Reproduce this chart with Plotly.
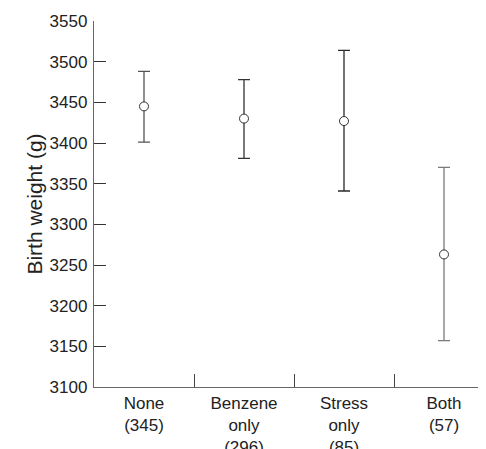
import plotly.graph_objects as go

categories = ["None<br>(345)", "Benzene<br>only<br>(296)", "Stress<br>only<br>(85)", "Both<br>(57)"]
means = [3445, 3430, 3427, 3263]
upper = [3488, 3478, 3514, 3370]
lower = [3401, 3381, 3341, 3157]
bar_colors = ["#555555", "#333333", "#2a2a2a", "#7a7a7a"]
y_ticks = [3100, 3150, 3200, 3250, 3300, 3350, 3400, 3450, 3500, 3550]

fig = go.Figure()
for i in range(len(categories)):
    fig.add_trace(go.Scatter(
        x=[i], y=[means[i]], mode="markers",
        marker=dict(symbol="circle", size=9, color="white",
                    line=dict(color="#333333", width=1)),
        error_y=dict(type="data", symmetric=False,
                     array=[upper[i] - means[i]],
                     arrayminus=[means[i] - lower[i]],
                     color=bar_colors[i], thickness=1.3, width=6),
        showlegend=False, hoverinfo="skip",
    ))

font = "Liberation Sans, Arial, sans-serif"
fig.update_layout(
    width=486, height=449,
    margin=dict(l=86, r=0, t=13, b=68),
    paper_bgcolor="white", plot_bgcolor="white",
    font=dict(family=font, size=17, color="#222222"),
    xaxis=dict(
        range=[-0.5, 3.5], tickmode="array",
        tickvals=list(range(len(categories))), ticktext=categories,
        ticks="", showgrid=False, zeroline=False,
        showline=True, linecolor="#666666", linewidth=1.3,
        tickfont=dict(size=17, family=font, color="#222222"),
        minor=dict(tickvals=[0.5, 1.5, 2.5], ticks="inside", ticklen=13,
                   tickcolor="#444444", tickwidth=1.2, showgrid=False),
    ),
    yaxis=dict(
        range=[3100, 3550], tickmode="array", tickvals=y_ticks,
        ticks="inside", ticklen=12, tickcolor="#333333", tickwidth=1.2,
        ticklabelstandoff=2,
        showgrid=False, zeroline=False,
        showline=True, linecolor="#666666", linewidth=1.3,
        tickfont=dict(size=17, family=font, color="#222222"),
        title=dict(text="Birth weight (g)", font=dict(size=21, family=font, color="#222222"), standoff=1),
    ),
)

fig.write_html("out.html")
